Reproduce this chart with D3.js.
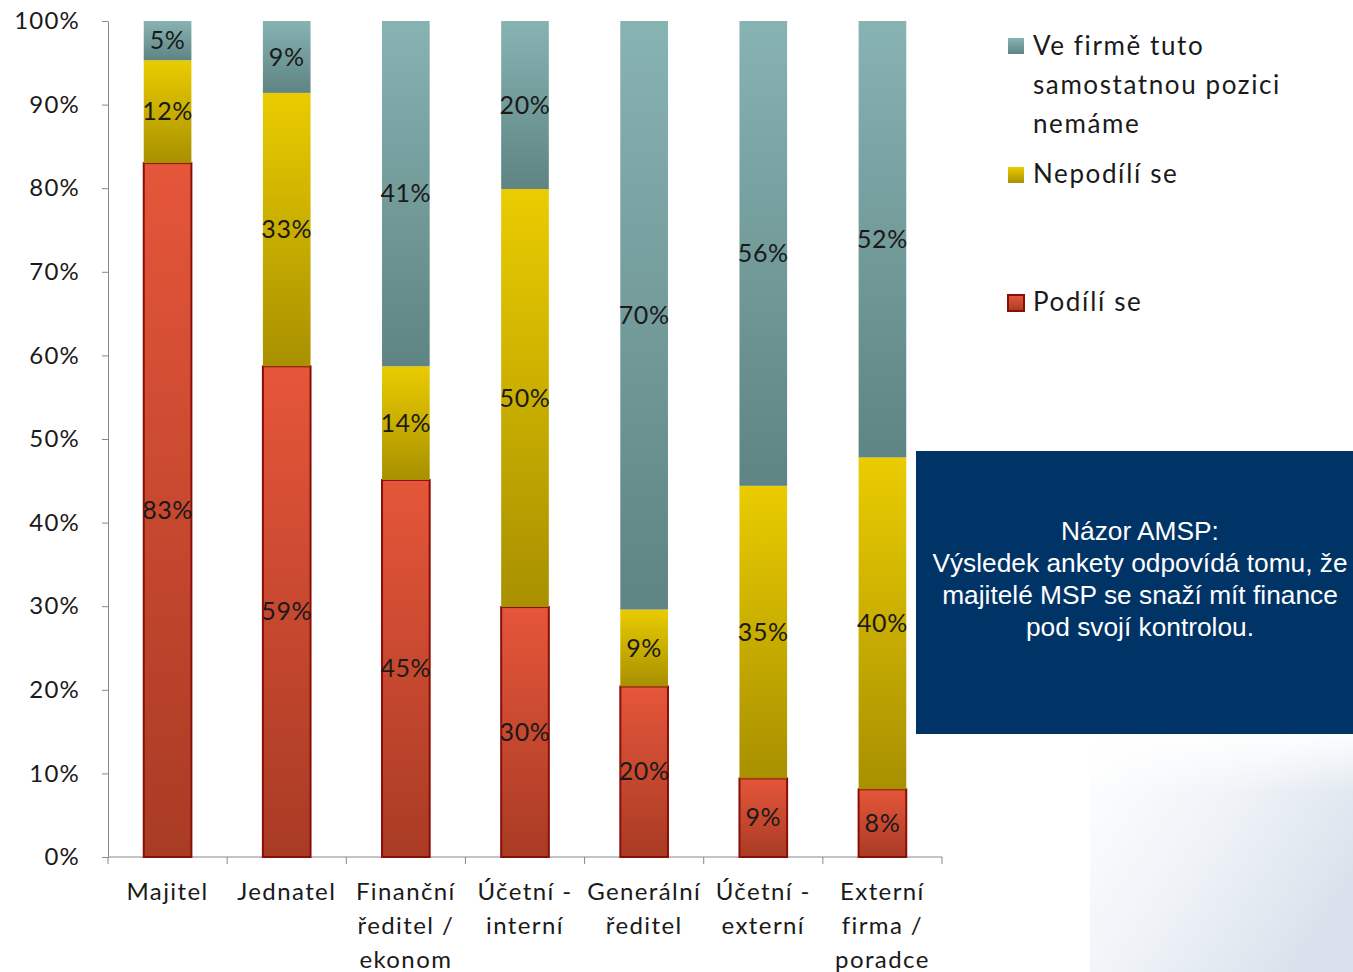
<!DOCTYPE html>
<html>
<head>
<meta charset="utf-8">
<script src="https://cdn.jsdelivr.net/npm/d3@7"></script>
<style>
  html, body { margin: 0; padding: 0; background: #fff; }
  svg { display: block; }
</style>
</head>
<body>
<svg id="chart" width="1353" height="972"></svg>
<script>
// ---- data ----
const categories = [
  ["Majitel"],
  ["Jednatel"],
  ["Finanční", "ředitel /", "ekonom"],
  ["Účetní -", "interní"],
  ["Generální", "ředitel"],
  ["Účetní -", "externí"],
  ["Externí", "firma /", "poradce"]
];
const seriesNames = ["Podílí se", "Nepodílí se", "Ve firmě tuto samostatnou pozici nemáme"];
const podiliSe    = [83.0, 58.7, 45.1, 29.9, 20.4, 9.4, 8.1];
const nepodiliSe  = [12.3, 32.7, 13.6, 50.0, 9.2, 35.0, 39.7];
const nemame      = [4.7, 8.6, 41.3, 20.1, 70.4, 55.6, 52.2];
const podiliSeLabels   = ["83%", "59%", "45%", "30%", "20%", "9%", "8%"];
const nepodiliSeLabels = ["12%", "33%", "14%", "50%", "9%", "35%", "40%"];
const nemameLabels     = ["5%", "9%", "41%", "20%", "70%", "56%", "52%"];
const yTicks = [0, 10, 20, 30, 40, 50, 60, 70, 80, 90, 100];
const noteLines = ["Názor AMSP:", "Výsledek ankety odpovídá tomu, že", "majitelé MSP se snaží mít finance", "pod svojí kontrolou."];

// ---- build table ----
const keys = ["red", "yellow", "gray"];
const table = categories.map((c, i) => ({
  idx: i,
  red: podiliSe[i], yellow: nepodiliSe[i], gray: nemame[i],
  labels: { red: podiliSeLabels[i], yellow: nepodiliSeLabels[i], gray: nemameLabels[i] }
}));

const svg = d3.select("#chart");
const FONT = "Lato, 'Open Sans', sans-serif";

// ---- defs: gradients ----
const defs = svg.append("defs");
const grads = {
  red:    ["#E5563A", "#A93B24"],
  yellow: ["#EACC00", "#A89000"],
  gray:   ["#87B3B2", "#5E8483"]
};
Object.entries(grads).forEach(([k, [c1, c2]]) => {
  const g = defs.append("linearGradient").attr("id", "g-" + k)
    .attr("x1", 0).attr("y1", 0).attr("x2", 0).attr("y2", 1);
  g.append("stop").attr("offset", "0%").attr("stop-color", c1);
  g.append("stop").attr("offset", "100%").attr("stop-color", c2);
});
const bg = defs.append("linearGradient").attr("id", "bgfade")
  .attr("x1", 0).attr("y1", 0).attr("x2", 1).attr("y2", 0.6);
bg.append("stop").attr("offset", "0%").attr("stop-color", "#ffffff").attr("stop-opacity", 1);
bg.append("stop").attr("offset", "55%").attr("stop-color", "#eef2f7");
bg.append("stop").attr("offset", "100%").attr("stop-color", "#d9e2ec");
const bgv = defs.append("linearGradient").attr("id", "bgfadev")
  .attr("x1", 0).attr("y1", 0).attr("x2", 0).attr("y2", 1);
bgv.append("stop").attr("offset", "0%").attr("stop-color", "#ffffff").attr("stop-opacity", 0.9);
bgv.append("stop").attr("offset", "100%").attr("stop-color", "#ffffff").attr("stop-opacity", 0);

// decorative background in bottom-right
svg.append("rect").attr("x", 1090).attr("y", 734).attr("width", 263).attr("height", 238).attr("fill", "url(#bgfade)");
svg.append("rect").attr("x", 1090).attr("y", 734).attr("width", 263).attr("height", 60).attr("fill", "url(#bgfadev)");

// ---- scales ----
const x = d3.scaleBand().domain(d3.range(categories.length)).range([108, 942]).padding(0);
const barW = x.bandwidth() * 0.4;
const y = d3.scaleLinear().domain([0, 100]).range([857, 21]);

// ---- axes ----
const yAxis = d3.axisLeft(y).tickValues(yTicks).tickFormat(d => d + "%")
  .tickSize(6).tickSizeOuter(0).tickPadding(22);
const yg = svg.append("g").attr("transform", "translate(108,0)").call(yAxis);
yg.select(".domain").attr("stroke", "#888");
yg.selectAll(".tick line").attr("stroke", "#888");
yg.selectAll(".tick text").attr("font-family", FONT).attr("font-size", 24)
  .attr("letter-spacing", 1.2).attr("fill", "#1a1a1a");

// x axis with boundary ticks
const xg = svg.append("g");
xg.append("line").attr("x1", x.range()[0]).attr("x2", x.range()[1])
  .attr("y1", y(0)).attr("y2", y(0)).attr("stroke", "#888");
const bounds = d3.range(categories.length + 1).map(i => i < categories.length ? x(i) : x.range()[1]);
xg.selectAll("line.bt").data(bounds).join("line").attr("class", "bt")
  .attr("x1", d => d).attr("x2", d => d).attr("y1", y(0)).attr("y2", y(0) + 7).attr("stroke", "#888");
const xl = xg.selectAll("text.cat").data(categories).join("text").attr("class", "cat")
  .attr("x", (d, i) => x(i) + x.bandwidth() / 2).attr("y", 900)
  .attr("text-anchor", "middle").attr("font-family", FONT).attr("font-size", 24)
  .attr("letter-spacing", 1.4).attr("fill", "#1a1a1a");
xl.selectAll("tspan").data(d => d).join("tspan")
  .attr("x", function () { return d3.select(this.parentNode).attr("x"); })
  .attr("dy", (d, j) => j === 0 ? 0 : 34).text(d => d);

// ---- bars ----
const stacked = d3.stack().keys(keys)(table);
const layers = svg.append("g").selectAll("g.layer").data(stacked).join("g").attr("class", "layer");
layers.selectAll("rect").data(d => d.map(v => ({ v, key: d.key }))).join("rect")
  .attr("x", d => x(d.v.data.idx) + (x.bandwidth() - barW) / 2)
  .attr("width", barW)
  .attr("y", d => y(Math.min(100, d.v[1])))
  .attr("height", d => y(d.v[0]) - y(Math.min(100, d.v[1])))
  .attr("fill", d => "url(#g-" + d.key + ")")
  .attr("stroke", d => d.key === "red" ? "#8A0E08" : "none")
  .attr("stroke-width", d => d.key === "red" ? 2 : 0);

// data labels
layers.selectAll("text").data(d => d.map(v => ({ v, key: d.key }))).join("text")
  .attr("x", d => x(d.v.data.idx) + x.bandwidth() / 2)
  .attr("y", d => (y(d.v[0]) + y(Math.min(100, d.v[1]))) / 2)
  .attr("dy", "0.35em")
  .attr("text-anchor", "middle").attr("font-family", FONT).attr("font-size", 25)
  .attr("letter-spacing", 0.6).attr("fill", "#1a1a1a")
  .text(d => d.v.data.labels[d.key]);

// ---- legend ----
const legendItems = [
  { key: "gray", lines: ["Ve firmě tuto", "samostatnou pozici", "nemáme"], sq: 38, base: 55 },
  { key: "yellow", lines: ["Nepodílí se"], sq: 167, base: 183 },
  { key: "red", lines: ["Podílí se"], sq: 295, base: 311 }
];
const lg = svg.append("g").selectAll("g").data(legendItems).join("g");
lg.append("rect").attr("x", 1008).attr("y", d => d.sq).attr("width", 16).attr("height", 16)
  .attr("fill", d => "url(#g-" + d.key + ")")
  .attr("stroke", d => d.key === "red" ? "#8A0E08" : "none").attr("stroke-width", 2);
const lt = lg.append("text").attr("x", 1033).attr("y", d => d.base)
  .attr("font-family", FONT).attr("font-size", 26).attr("letter-spacing", 1.6).attr("fill", "#1a1a1a");
lt.selectAll("tspan").data(d => d.lines).join("tspan")
  .attr("x", 1033).attr("dy", (d, j) => j === 0 ? 0 : 39).text(d => d);

// ---- note box ----
svg.append("rect").attr("x", 916).attr("y", 451).attr("width", 437).attr("height", 283).attr("fill", "#003366");
svg.append("text").attr("x", 1140).attr("y", 540)
  .attr("text-anchor", "middle").attr("font-family", "'Liberation Sans', Arial, sans-serif")
  .attr("font-size", 26.3).attr("fill", "#fff")
  .selectAll("tspan").data(noteLines).join("tspan")
  .attr("x", 1140).attr("dy", (d, j) => j === 0 ? 0 : 32).text(d => d);
</script>
</body>
</html>
